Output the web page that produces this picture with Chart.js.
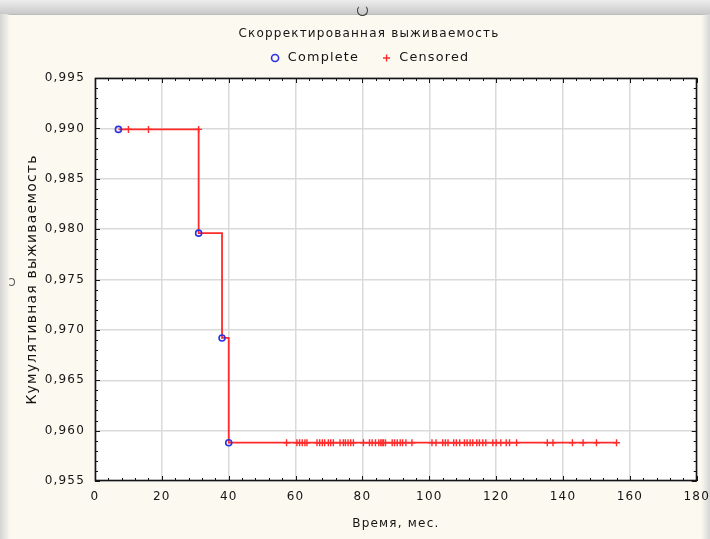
<!DOCTYPE html>
<html lang="ru">
<head>
<meta charset="utf-8">
<title>Скорректированная выживаемость</title>
<script src="https://cdn.jsdelivr.net/npm/chart.js@4/dist/chart.umd.min.js"></script>
<style>
  html, body { margin: 0; padding: 0; }
  body {
    width: 710px; height: 539px; overflow: hidden; position: relative;
    background: #fcf9f0;
  }
  .chrome-top {
    position: absolute; left: 0; top: 0; width: 710px; height: 14px;
    background: linear-gradient(#ededed, #c9c9c9);
    border-bottom: 1px solid #bcbcbc;
  }
  .chrome-left {
    position: absolute; left: 0; top: 14px; width: 10px; height: 525px;
    background: linear-gradient(to right, #d4d4d4, #ebe9e3 60%, rgba(252,249,240,0));
  }
  .chrome-right {
    position: absolute; right: 0; top: 14px; width: 9px; height: 525px;
    background: linear-gradient(to right, rgba(252,249,240,0), #d6d6d6);
  }
  .knob-top {
    position: absolute; left: 357px; top: 5px; width: 9px; height: 9px;
    border: 1.5px solid #3a3a3a; border-top-color: transparent; border-radius: 50%;
  }
  .knob-left {
    position: absolute; left: 8px; top: 278px; width: 5px; height: 6px;
    border: 1px solid #555; border-left-color: transparent; border-radius: 50%;
  }
  canvas { position: absolute; left: 0; top: 0; }
</style>
</head>
<body>
<div class="chrome-top"></div>
<div class="chrome-left"></div>
<div class="chrome-right"></div>
<div class="knob-top"></div>
<div class="knob-left"></div>
<canvas id="km" width="710" height="539"></canvas>
<script>
// Kaplan–Meier estimate: event (complete) times, months, and the survival after each event
const completeTimes = [7, 31, 38, 40];
const completeSurvival = [0.9899, 0.9796, 0.9692, 0.9588];

// Censored observations, months
const censoredTimes = [
  10, 16, 31,
  57.3, 60.4, 61.2, 62.0, 62.8, 63.4, 66.4, 67.2, 68.0, 68.7, 69.8, 70.5, 71.3,
  73.3, 74.3, 74.9, 75.7, 76.5, 77.3, 80.3, 82.1, 82.9, 83.9, 84.9, 85.5, 85.9,
  86.3, 86.9, 88.9, 89.6, 90.4, 91.3, 92.0, 93.0, 94.8, 100.8, 102.0, 104.0,
  104.8, 105.6, 107.3, 108.1, 109.1, 110.5, 111.3, 112.2, 113.0, 114.2, 115.0,
  116.0, 116.9, 119.0, 120.0, 121.4, 123.0, 124.0, 126.1, 135.3, 137.0, 142.8,
  146.0, 150.0, 156.0
];

// Axis tick labels
const xTickValues = [0, 20, 40, 60, 80, 100, 120, 140, 160, 180];
const yTickValues = [0.955, 0.960, 0.965, 0.970, 0.975, 0.980, 0.985, 0.990, 0.995];

const titleText = 'Скорректированная выживаемость';
const xTitle = 'Время, мес.';
const yTitle = 'Кумулятивная выживаемость';

// Survival level in effect just before time t (censored marks sit on the curve)
function survivalBefore(t) {
  let level = completeSurvival[0];
  completeTimes.forEach((ct, i) => { if (ct < t) level = completeSurvival[i]; });
  return level;
}

const completePoints = completeTimes.map((t, i) => ({ x: t, y: completeSurvival[i] }));
const censoredPoints = censoredTimes.map(t => ({ x: t, y: survivalBefore(t) }));
const lastTime = Math.max(...censoredTimes);
const curvePoints = completePoints.concat([{ x: lastTime, y: completeSurvival[completeSurvival.length - 1] }]);

const LETTER_SPACING = '1.2px';
const RED = '#ff2a2a';
const BLUE = '#2a32e6';
const INK = '#151515';

Chart.defaults.font.family = '"DejaVu Sans", Verdana, sans-serif';
Chart.defaults.font.size = 12;
Chart.defaults.color = INK;

// Wider text tracking, reapplied after any canvas reset
const textSpacing = {
  id: 'textSpacing',
  beforeLayout(chart) { chart.ctx.letterSpacing = LETTER_SPACING; },
  beforeDraw(chart) { chart.ctx.letterSpacing = LETTER_SPACING; }
};

// White plotting field, black frame and inward major/minor ticks on all four sides
const plotFrame = {
  id: 'plotFrame',
  beforeDraw(chart) {
    const { ctx, chartArea: a } = chart;
    ctx.save();
    ctx.fillStyle = '#ffffff';
    ctx.fillRect(a.left, a.top, a.width, a.height);
    ctx.restore();
  },
  beforeDatasetsDraw(chart) {
    const { ctx, chartArea: a, scales: { x, y } } = chart;
    const xMin = xTickValues[0], xMax = xTickValues[xTickValues.length - 1];
    const yMin = yTickValues[0], yMax = yTickValues[yTickValues.length - 1];
    const xMajor = xTickValues[1] - xTickValues[0], xMinorCount = 5;
    const yMajor = yTickValues[1] - yTickValues[0], yMinorCount = 5;
    ctx.save();
    ctx.strokeStyle = INK;
    ctx.lineWidth = 1;
    ctx.beginPath();
    const nx = Math.round((xMax - xMin) / xMajor) * xMinorCount;
    for (let i = 0; i <= nx; i++) {
      const v = xMin + i * xMajor / xMinorCount;
      const px = Math.round(x.getPixelForValue(v)) + 0.5;
      const len = i % xMinorCount === 0 ? 5 : 3;
      ctx.moveTo(px, a.bottom); ctx.lineTo(px, a.bottom - len);
      ctx.moveTo(px, a.top); ctx.lineTo(px, a.top + len);
    }
    const ny = Math.round((yMax - yMin) / yMajor) * yMinorCount;
    for (let i = 0; i <= ny; i++) {
      const v = yMin + i * yMajor / yMinorCount;
      const py = Math.round(y.getPixelForValue(v)) + 0.5;
      const len = i % yMinorCount === 0 ? 5 : 3;
      ctx.moveTo(a.left, py); ctx.lineTo(a.left + len, py);
      ctx.moveTo(a.right, py); ctx.lineTo(a.right - len, py);
    }
    ctx.stroke();
    ctx.lineWidth = 1.6;
    ctx.strokeRect(Math.round(a.left) + 0.5, Math.round(a.top) + 0.5,
                   Math.round(a.width) - 1, Math.round(a.height) - 1);
    ctx.restore();
  }
};

new Chart(document.getElementById('km'), {
  type: 'scatter',
  data: {
    datasets: [
      {
        label: 'Complete',
        data: completePoints,
        pointStyle: 'circle',
        pointRadius: 3,
        pointBorderWidth: 1.6,
        pointBorderColor: BLUE,
        pointBackgroundColor: 'rgba(0,0,0,0)',
        borderColor: BLUE,
        backgroundColor: 'rgba(0,0,0,0)'
      },
      {
        label: 'Censored',
        data: censoredPoints,
        pointStyle: 'cross',
        pointRadius: 3.5,
        pointBorderWidth: 1.4,
        pointBorderColor: RED,
        pointBackgroundColor: RED,
        borderColor: RED,
        backgroundColor: RED
      },
      {
        type: 'line',
        label: 'S(t)',
        data: curvePoints,
        stepped: 'before',
        borderColor: RED,
        borderWidth: 1.8,
        pointRadius: 0,
        fill: false
      }
    ]
  },
  options: {
    responsive: false,
    animation: false,
    events: [],
    devicePixelRatio: 1,
    layout: { padding: { left: 40, right: 12, top: 0, bottom: 0 } },
    plugins: {
      tooltip: { enabled: false },
      title: {
        display: true,
        text: titleText,
        font: { size: 12, weight: 'normal' },
        color: INK,
        padding: { top: 26.8, bottom: -10.6 }
      },
      legend: {
        display: true,
        position: 'top',
        labels: {
          usePointStyle: true,
          boxHeight: 5,
          padding: 21,
          color: INK,
          font: { size: 12.8 },
          filter: item => item.datasetIndex < 2
        }
      }
    },
    scales: {
      x: {
        type: 'linear',
        position: 'bottom',
        min: xTickValues[0],
        max: xTickValues[xTickValues.length - 1],
        afterBuildTicks: s => { s.ticks = xTickValues.map(v => ({ value: v })); },
        afterFit: s => { s.height = 58; },
        grid: { color: '#dadada', lineWidth: 1.5, drawTicks: false },
        border: { display: false },
        ticks: { padding: 0, autoSkip: false, maxRotation: 0, color: INK, font: { size: 12, lineHeight: '32px' } },
        title: { display: true, text: xTitle, color: INK, font: { size: 12 }, padding: { top: 0, bottom: 8 } }
      },
      xTop: {
        type: 'linear',
        position: 'top',
        min: xTickValues[0],
        max: xTickValues[xTickValues.length - 1],
        afterFit: s => { s.height = 3.6; },
        grid: { display: false, drawTicks: false },
        border: { display: false },
        ticks: { display: false }
      },
      y: {
        type: 'linear',
        min: yTickValues[0],
        max: yTickValues[yTickValues.length - 1],
        afterBuildTicks: s => { s.ticks = yTickValues.map(v => ({ value: v })); },
        afterFit: s => { s.width = 55; },
        grid: { color: '#dadada', lineWidth: 1.5, drawTicks: false },
        border: { display: false },
        ticks: {
          padding: 10,
          color: INK,
          font: { size: 12 },
          callback: v => v.toFixed(3).replace('.', ',')
        },
        title: { display: true, text: yTitle, color: INK, font: { size: 14 }, padding: { top: -16.4, bottom: 0 } }
      }
    }
  },
  plugins: [textSpacing, plotFrame]
});
</script>
</body>
</html>
